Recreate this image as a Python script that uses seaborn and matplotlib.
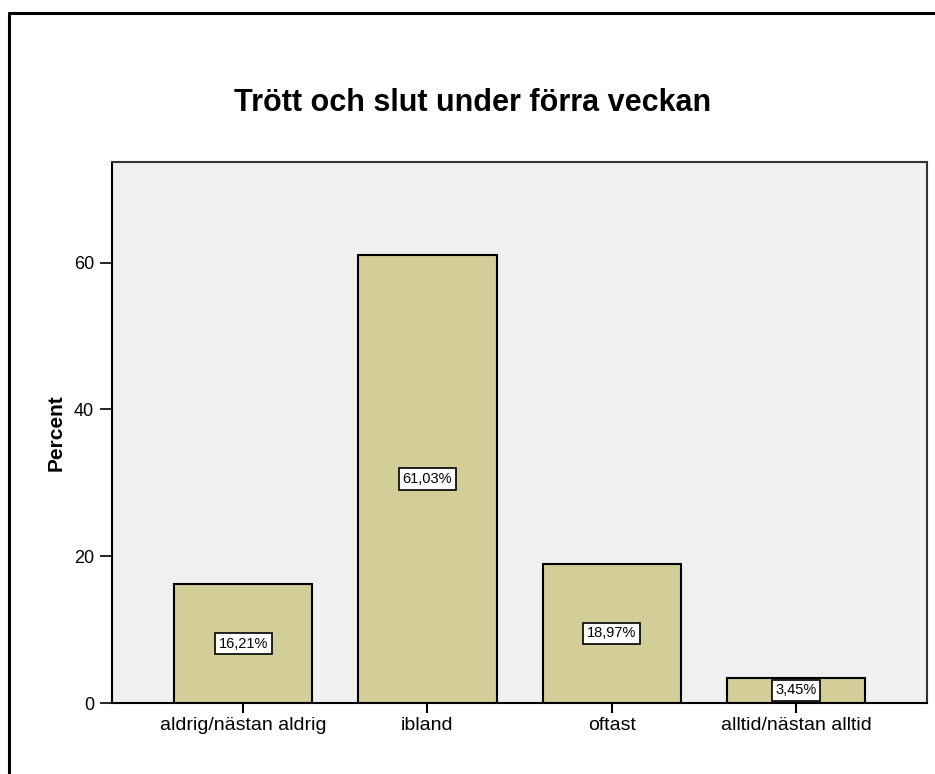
import matplotlib
matplotlib.use("Agg")
import matplotlib.pyplot as plt
import seaborn as sns
import pandas as pd
from matplotlib.lines import Line2D

# Data
categories = ["aldrig/nästan aldrig", "ibland", "oftast", "alltid/nästan alltid"]
percent = [16.21, 61.03, 18.97, 3.45]
value_labels = ["16,21%", "61,03%", "18,97%", "3,45%"]
y_ticks = [0, 20, 40, 60]

df = pd.DataFrame({"Kategori": categories, "Percent": percent})

sns.set_theme(style="white")
plt.rcParams['font.family'] = ['Liberation Sans', 'DejaVu Sans']
plt.rcParams['text.color'] = 'black'
plt.rcParams['axes.labelcolor'] = 'black'
plt.rcParams['xtick.color'] = 'black'
plt.rcParams['ytick.color'] = 'black'

fig = plt.figure(figsize=(9.35, 7.74), dpi=100)
ax = fig.add_axes([0.1198, 0.0917, 0.8717, 0.699])

sns.barplot(data=df, x="Kategori", y="Percent", color="#D3CE98", saturation=1,
            edgecolor="black", linewidth=1.5, width=0.75, ax=ax)

ax.set_facecolor("#F0F0F0")
ax.set_xlim(-0.712, 3.712)
ax.set_ylim(0, 73.7)
ax.set_yticks(y_ticks)
ax.set_yticklabels([str(t) for t in y_ticks], fontsize=13)
ax.tick_params(axis="x", labelsize=14, length=7, width=1.5, pad=3, direction="out", bottom=True)
ax.tick_params(axis="y", length=8.5, width=1.2, pad=4.5, direction="out", left=True)

for side in ["left", "bottom"]:
    ax.spines[side].set_color("black")
    ax.spines[side].set_linewidth(1.5)
for side in ["top", "right"]:
    ax.spines[side].set_color("#333333")
    ax.spines[side].set_linewidth(1.5)

ax.set_xlabel("")
ax.set_ylabel("Percent", fontsize=15, fontweight="bold")
ax.yaxis.set_label_coords(-0.0565, 0.5)

# Etiketter i mitten av staplarna
ax.bar_label(ax.containers[0], labels=value_labels, label_type="center", fontsize=10.5,
             bbox=dict(boxstyle="square,pad=0.25", facecolor="white", edgecolor="black", linewidth=1.2))

fig.text(0.505, 0.867, "Trött och slut under förra veckan", ha="center", va="center",
         fontsize=22, fontweight="bold")

# Ram runt figuren (bara vänster och topp syns)
fig.add_artist(Line2D([9 / 935, 9 / 935], [0, 1 - 13 / 774], color="black", linewidth=2.2))
fig.add_artist(Line2D([9 / 935, 1], [1 - 13 / 774, 1 - 13 / 774], color="black", linewidth=2.2))

fig.savefig("out.png", dpi=100)
